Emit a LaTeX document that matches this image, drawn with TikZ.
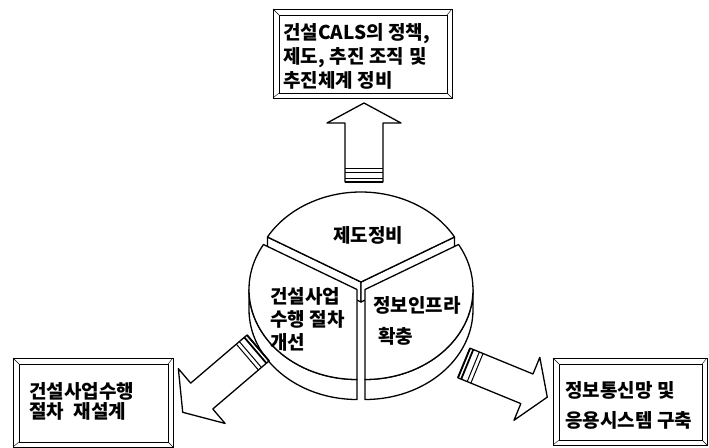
\documentclass[tikz,border=0pt]{standalone}
\usepackage{fontspec}
\setmainfont{Noto Sans CJK KR}[WordSpace=1.1]
\usetikzlibrary{calc}

\tikzset{
  pieline/.style={line width=1.3pt, line join=round, fill=white},
  frame/.style={line width=1pt},
  txt/.style={inner sep=0pt, align=left, font=\bfseries\fontsize{19}{#1}\selectfont},
}

% bevelled frame: top left x,y and bottom right x,y
\newcommand{\bevelbox}[4]{%
  \draw[frame] (#1,#2) rectangle (#3,#4);
  \draw[frame] ($(#1,#2)+(6,-6)$) rectangle ($(#3,#4)+(-5,5)$);
  \draw[thin] (#1,#2) -- ++(6,-6) (#3,#2) -- ++(-5,-6) (#1,#4) -- ++(6,5) (#3,#4) -- ++(-5,5);
}

% block arrow: start x, y, angle, shaft length, shaft half width, head length, head half width
\newcommand{\blockarrow}[7]{%
  \begin{scope}[shift={(#1,#2)}, rotate=#3]
    \filldraw[pieline] (0,-#5) -- (#4,-#5) -- (#4,-#7) -- (#4+#6,0) -- (#4,#7) -- (#4,#5) -- (0,#5) -- cycle;
    \foreach \r/\lw in {0/1.8, 3.5/1.8, 10/1, 14/1}
      \draw[line width=\lw pt] (\r,-#5) -- (\r,#5);
  \end{scope}}

\begin{document}
\begin{tikzpicture}[x=1pt, y=1pt]
\useasboundingbox (0,0) rectangle (709,-447);

% the three slices of the pie
\begin{scope}[shift={(361,-287)}]
  % top slice
  \begin{scope}[yshift=5]
    \filldraw[pieline] (0,0) -- (150:108 and 90) -- ++(0,-20) -- (0,-20) -- cycle;
    \filldraw[pieline] (0,0) -- (30:108 and 90) -- ++(0,-20) -- (0,-20) -- cycle;
    \filldraw[pieline] (0,0) -- (30:108 and 90) arc[start angle=30, end angle=150, x radius=108, y radius=90] -- cycle;
  \end{scope}
  % left slice
  \begin{scope}[shift={(-4,-2.5)}]
    \filldraw[pieline] (180:108 and 90) arc[start angle=180, end angle=270, x radius=108, y radius=90] -- ++(0,-20) arc[start angle=270, end angle=180, x radius=108, y radius=90] -- cycle;
    \filldraw[pieline] (0,0) -- (150:108 and 90) arc[start angle=150, end angle=270, x radius=108, y radius=90] -- cycle;
  \end{scope}
  % right slice
  \begin{scope}[shift={(4,-2.5)}]
    \filldraw[pieline] (270:108 and 90) arc[start angle=270, end angle=360, x radius=108, y radius=90] -- ++(0,-20) arc[start angle=360, end angle=270, x radius=108, y radius=90] -- cycle;
    \filldraw[pieline] (0,0) -- (270:108 and 90) arc[start angle=270, end angle=390, x radius=108, y radius=90] -- cycle;
  \end{scope}
\end{scope}

\node[txt=24, anchor=center] (inst) at (368,-235) {제도정비};
\node[txt=23, anchor=west] (process) at (270,-319) {건설사업\\수행 절차\\개선};
\node[txt=31, anchor=west] (infra) at (373,-320.5) {정보인프라\\\hspace{5pt}확충};

% arrows out of the pie
\blockarrow{364}{-182}{90}{59}{19}{20}{37}
\blockarrow{258}{-348}{220.5}{74}{17}{25}{36}
\blockarrow{464}{-363}{-22.3}{68}{16}{22}{34}

% the three goal boxes
\bevelbox{273}{-9}{452}{-98}
\node[txt=24, anchor=west] (policy) at (283,-56) {건설CALS의 정책,\\제도, 추진 조직 및\\추진체계 정비};

\bevelbox{13}{-358}{173}{-447}
\node[txt=19.5, anchor=west] (redesign) at (29,-401.5) {건설사업수행\\절차\ \ 재설계};

\bevelbox{553}{-358}{707}{-445}
\node[txt=30, anchor=west] (network) at (565,-405) {정보통신망 및\\응용시스템 구축};

\end{tikzpicture}
\end{document}
